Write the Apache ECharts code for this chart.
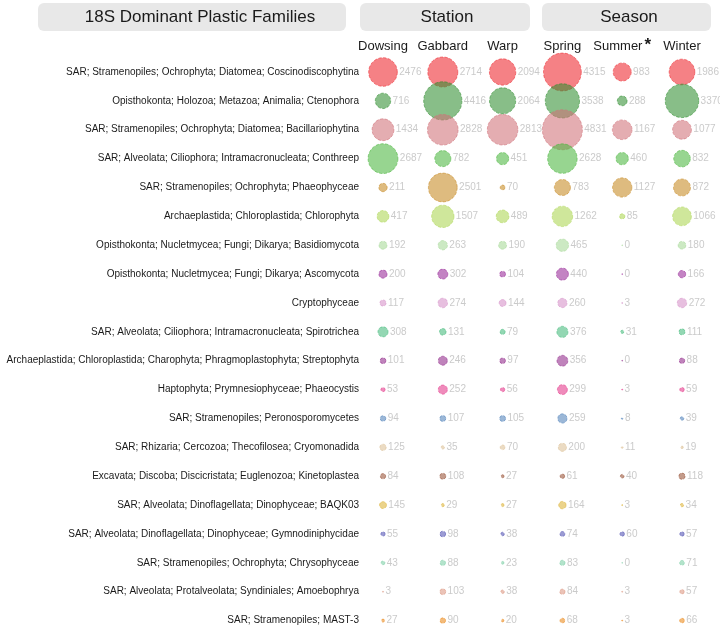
<!DOCTYPE html>
<html>
<head>
<meta charset="utf-8">
<script src="https://cdn.jsdelivr.net/npm/echarts@6/dist/echarts.min.js"></script>
<style>html,body{margin:0;padding:0;background:#fff;}#c{width:720px;height:629px;}</style>
</head>
<body>
<div id="c"></div>
<script>
var families = [
  'SAR; Stramenopiles; Ochrophyta; Diatomea; Coscinodiscophytina',
  'Opisthokonta; Holozoa; Metazoa; Animalia; Ctenophora',
  'SAR; Stramenopiles; Ochrophyta; Diatomea; Bacillariophytina',
  'SAR; Alveolata; Ciliophora; Intramacronucleata; Conthreep',
  'SAR; Stramenopiles; Ochrophyta; Phaeophyceae',
  'Archaeplastida; Chloroplastida; Chlorophyta',
  'Opisthokonta; Nucletmycea; Fungi; Dikarya; Basidiomycota',
  'Opisthokonta; Nucletmycea; Fungi; Dikarya; Ascomycota',
  'Cryptophyceae',
  'SAR; Alveolata; Ciliophora; Intramacronucleata; Spirotrichea',
  'Archaeplastida; Chloroplastida; Charophyta; Phragmoplastophyta; Streptophyta',
  'Haptophyta; Prymnesiophyceae; Phaeocystis',
  'SAR; Stramenopiles; Peronosporomycetes',
  'SAR; Rhizaria; Cercozoa; Thecofilosea; Cryomonadida',
  'Excavata; Discoba; Discicristata; Euglenozoa; Kinetoplastea',
  'SAR; Alveolata; Dinoflagellata; Dinophyceae; BAQK03',
  'SAR; Alveolata; Dinoflagellata; Dinophyceae; Gymnodiniphycidae',
  'SAR; Stramenopiles; Ochrophyta; Chrysophyceae',
  'SAR; Alveolata; Protalveolata; Syndiniales; Amoebophrya',
  'SAR; Stramenopiles; MAST-3'
];
var columns = ['Dowsing', 'Gabbard', 'Warp', 'Spring', 'Summer*', 'Winter'];

var dowsing = [2476, 716, 1434, 2687, 211, 417, 192, 200, 117, 308, 101, 53, 94, 125, 84, 145, 55, 43, 3, 27];
var gabbard = [2714, 4416, 2828, 782, 2501, 1507, 263, 302, 274, 131, 246, 252, 107, 35, 108, 29, 98, 88, 103, 90];
var warp    = [2094, 2064, 2813, 451, 70, 489, 190, 104, 144, 79, 97, 56, 105, 70, 27, 27, 38, 23, 38, 20];
var spring  = [4315, 3538, 4831, 2628, 783, 1262, 465, 440, 260, 376, 356, 299, 259, 200, 61, 164, 74, 83, 84, 68];
var summer  = [983, 288, 1167, 460, 1127, 85, 0, 0, 3, 31, 0, 3, 8, 11, 40, 3, 60, 0, 3, 3];
var winter  = [1986, 3370, 1077, 832, 872, 1066, 180, 166, 272, 111, 88, 59, 39, 19, 118, 34, 57, 71, 57, 66];

var rowColors = [
  'rgba(238,45,52,0.75)', 'rgba(48,142,48,0.72)', 'rgba(208,112,120,0.72)', 'rgba(75,182,62,0.72)',
  'rgba(200,142,42,0.75)', 'rgba(175,215,88,0.75)', 'rgba(170,218,155,0.75)', 'rgba(155,48,155,0.75)',
  'rgba(215,148,202,0.75)', 'rgba(75,188,128,0.75)', 'rgba(148,48,142,0.75)', 'rgba(228,62,142,0.75)',
  'rgba(88,135,188,0.75)', 'rgba(222,195,155,0.75)', 'rgba(155,88,62,0.75)', 'rgba(222,182,62,0.75)',
  'rgba(88,88,182,0.75)', 'rgba(128,208,168,0.75)', 'rgba(222,155,135,0.75)', 'rgba(235,142,35,0.75)'
];

var colValues = [dowsing, gabbard, warp, spring, summer, winter];
var maxV = 4831;

var series = families.map(function (fam, r) {
  var data = colValues.map(function (arr, c) { return [c, r, arr[r]]; });
  return {
    type: 'scatter',
    name: fam,
    data: data,
    symbolSize: function (d) { return Math.max(0.8, 40 * Math.sqrt(d[2] / maxV)); },
    itemStyle: { color: rowColors[r], borderColor: rowColors[r].replace(/[\d.]+\)$/, '0.9)'), borderWidth: 0.8, borderType: 'dashed' },
    label: {
      show: true, position: 'right', distance: 1.5,
      formatter: function (p) { return String(p.data[2]); },
      color: '#bdbdbd', fontSize: 10, fontFamily: 'Liberation Sans'
    },
    emphasis: { disabled: true },
    z: 2 + r
  };
});

var chart = echarts.init(document.getElementById('c'), null, { renderer: 'canvas' });
chart.setOption({
  animation: false,
  backgroundColor: '#fff',
  grid: { left: 383, right: 38, top: 72, bottom: 8.4 },
  xAxis: {
    type: 'category', position: 'top', boundaryGap: false, data: columns,
    axisLine: { show: false }, axisTick: { show: false }, splitLine: { show: false },
    axisLabel: {
      interval: 0, margin: 19, fontSize: 13, color: '#1a1a1a', fontFamily: 'Liberation Sans Narrow, Liberation Sans',
      formatter: function (v) { return v.indexOf('*') >= 0 ? '{n|' + v.replace('*', '') + '}{s|*}' : v; },
      rich: {
        n: { fontSize: 13, lineHeight: 16, verticalAlign: 'bottom', color: '#1a1a1a', fontFamily: 'Liberation Sans Narrow, Liberation Sans' },
        s: { fontSize: 17, lineHeight: 16, fontWeight: 'bold', verticalAlign: 'top', color: '#1a1a1a', padding: [0, 0, 0, 2] }
      }
    }
  },
  yAxis: {
    type: 'category', inverse: true, boundaryGap: false, data: families,
    axisLine: { show: false }, axisTick: { show: false }, splitLine: { show: false },
    axisLabel: { interval: 0, margin: 24, fontSize: 10, color: '#1a1a1a', fontFamily: 'Liberation Sans' }
  },
  graphic: [
    { type: 'rect', shape: { x: 38, y: 3, width: 308, height: 28, r: 6 }, style: { fill: '#e8e8e8' } },
    { type: 'rect', shape: { x: 360, y: 3, width: 170, height: 28, r: 6 }, style: { fill: '#e8e8e8' } },
    { type: 'rect', shape: { x: 542, y: 3, width: 169, height: 28, r: 6 }, style: { fill: '#e8e8e8' } },
    { type: 'text', x: 200, y: 17, style: { text: '18S Dominant Plastic Families', fill: '#1a1a1a', font: '17px Liberation Sans', textAlign: 'center', textVerticalAlign: 'middle' } },
    { type: 'text', x: 447, y: 17, style: { text: 'Station', fill: '#1a1a1a', font: '17px Liberation Sans', textAlign: 'center', textVerticalAlign: 'middle' } },
    { type: 'text', x: 629, y: 17, style: { text: 'Season', fill: '#1a1a1a', font: '17px Liberation Sans', textAlign: 'center', textVerticalAlign: 'middle' } }
  ],
  series: series
});
</script>
</body>
</html>
